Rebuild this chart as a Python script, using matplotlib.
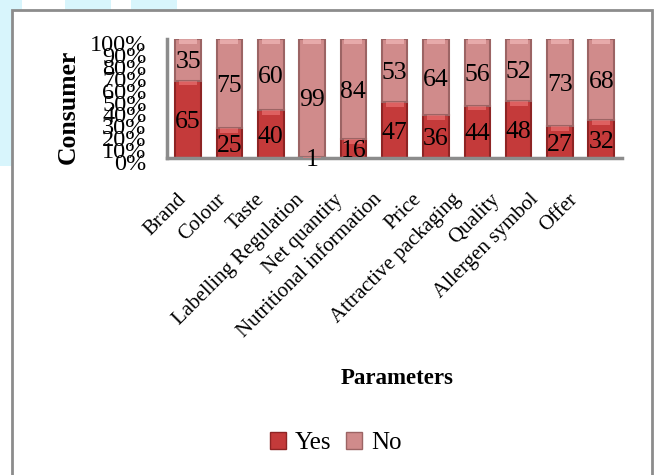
import matplotlib
matplotlib.use("Agg")
import matplotlib.pyplot as plt
from matplotlib.patches import Rectangle, Patch
from matplotlib.transforms import ScaledTranslation
import numpy as np

# survey answers per labelling parameter (% of consumers)
params = ["Brand", "Colour", "Taste", "Labelling Regulation", "Net quantity",
          "Nutritional information", "Price", "Attractive packaging",
          "Quality", "Allergen symbol", "Offer"]
yes = [65, 25, 40, 1, 16, 47, 36, 44, 48, 27, 32]
no = [35, 75, 60, 99, 84, 53, 64, 56, 52, 73, 68]
yticks = list(range(0, 101, 10))

YES_C, YES_EDGE, YES_HI = "#c43a3a", "#8e2424", "#f07a7a"
NO_C, NO_EDGE, NO_HI = "#d08b8b", "#9c6464", "#f2b8b8"
GRAY = "#8c8c8c"

plt.rcParams["font.family"] = ["Liberation Serif", "DejaVu Serif"]

fig = plt.figure(figsize=(6.54, 4.75), dpi=100)
fig.patch.set_facecolor("white")

# light background patches behind the chart frame
for x0, y0, w, h in [(0, 0.65, 0.018, 0.35), (0, 0.975, 0.034, 0.025),
                     (0.10, 0.975, 0.07, 0.025), (0.20, 0.975, 0.07, 0.025)]:
    fig.patches.append(Rectangle((x0, y0), w, h, transform=fig.transFigure,
                                 facecolor="#d8f5fc", edgecolor="none", zorder=0))
fig.patches.append(Rectangle((0.019, -0.05), 0.978, 1.029, transform=fig.transFigure,
                             facecolor="white", edgecolor=GRAY, linewidth=2, zorder=1))

ax = fig.add_axes([0.256, 0.667, 0.695, 0.251])
ax.set_zorder(3)
ax.set_facecolor("none")
x = np.arange(len(params))
w = 0.62

ax.bar(x, yes, w, color=YES_C, edgecolor=YES_EDGE, linewidth=1.5, zorder=2)
ax.bar(x, no, w, bottom=yes, color=NO_C, edgecolor=NO_EDGE, linewidth=1.5, zorder=2)

# glossy caps at the top of each segment
tops_yes = np.array(yes)
tops_no = np.array(yes) + np.array(no)
cap_y = np.minimum(4, tops_yes)
ax.bar(x, cap_y, w * 0.7, bottom=tops_yes - cap_y, color=YES_HI, alpha=0.6,
       linewidth=0, zorder=3)
ax.bar(x, 4, w * 0.7, bottom=tops_no - 4, color=NO_HI, alpha=0.7,
       linewidth=0, zorder=3)

for i in range(len(params)):
    ax.text(x[i], yes[i] / 2, str(yes[i]), ha="center", va="center_baseline",
            fontsize=18.5, zorder=4)
    ax.text(x[i], yes[i] + no[i] / 2, str(no[i]), ha="center",
            va="center_baseline", fontsize=18.5, zorder=4)

ax.set_xlim(-0.5, len(params) - 0.5)
ax.set_ylim(0, 100)
ax.set_yticks(yticks)
ax.set_yticklabels([f"{t}%" for t in yticks], fontsize=17.5)
ax.set_xticks(x)
ax.set_xticklabels(params, rotation=45, ha="right", va="top",
                   rotation_mode="anchor", fontsize=15)
ax.tick_params(axis="both", length=0)
ax.tick_params(axis="x", pad=18)
ax.tick_params(axis="y", pad=15)

# category labels sit on a slightly tighter pitch than the bars
for i, lbl in enumerate(ax.get_xticklabels()):
    dx = -(11 + 2.2 * i) / 100
    lbl.set_transform(lbl.get_transform()
                      + ScaledTranslation(dx, -0.07, fig.dpi_scale_trans))
for lbl in ax.get_yticklabels():
    lbl.set_transform(lbl.get_transform()
                      + ScaledTranslation(0, -0.04, fig.dpi_scale_trans))

for s in ["top", "right"]:
    ax.spines[s].set_visible(False)
for s in ["left", "bottom"]:
    ax.spines[s].set_color(GRAY)
    ax.spines[s].set_linewidth(2.5)

fig.text(0.104, 0.775, "Consumer", rotation=90, ha="center", va="center",
         fontsize=18.5, fontweight="bold", zorder=3)
fig.text(0.607, 0.204, "Parameters", ha="center", va="center",
         fontsize=16.5, fontweight="bold", zorder=3)

handles = [Patch(facecolor=YES_C, edgecolor=YES_EDGE, label="Yes"),
           Patch(facecolor=NO_C, edgecolor=NO_EDGE, label="No")]
leg = fig.legend(handles=handles, loc="center", bbox_to_anchor=(0.513, 0.067),
                 ncol=2, frameon=False, fontsize=18, handlelength=0.65,
                 handleheight=0.65, handletextpad=0.35, columnspacing=0.6)
leg.set_zorder(3)

fig.savefig("out.png", dpi=100)
